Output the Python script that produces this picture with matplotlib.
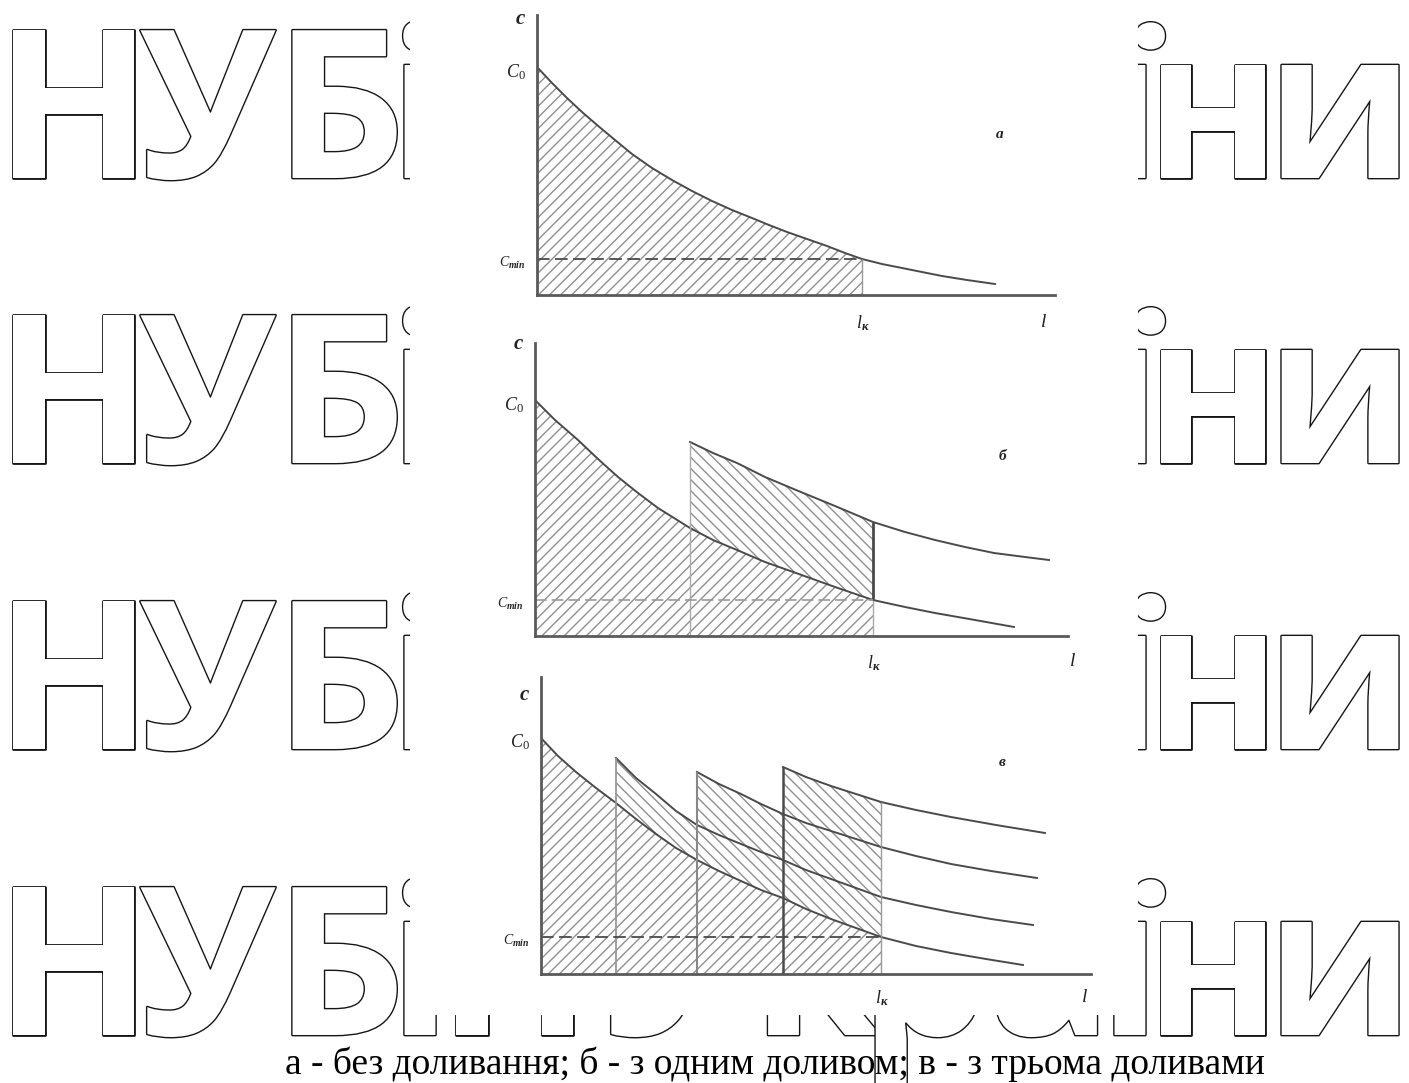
import matplotlib
matplotlib.use("Agg")
import matplotlib.pyplot as plt
from matplotlib.patches import Rectangle
import matplotlib.patheffects as pe

W, H = 1409, 1083

# --- values (l along the axis, c height above it) ---
# panel а - без доливання
a_l = [0, 15, 30, 45, 60, 78, 95, 115, 135, 155, 175, 195, 215, 232, 250, 270, 290, 308,
       325, 345, 365, 385, 405, 430, 458]
a_c = [228, 212, 197, 183, 170, 155, 141, 127, 115, 104, 94, 85, 77, 70, 63, 56, 49, 42,
       36, 31, 27, 23, 19, 15, 11]
a_cmin = 36
a_lk = 325

# panel б - з одним доливом
b_l1 = [0, 20, 43, 63, 83, 103, 123, 155, 178, 202, 230, 261, 300, 338, 370, 400, 440, 479]
b_c1 = [236, 216, 196, 177, 159, 143, 128, 108, 96, 86, 74, 63, 49, 36, 29, 23, 16, 9]
b_l2 = [155, 178, 202, 230, 261, 300, 338, 370, 400, 430, 459, 490, 514]
b_c2 = [194, 183, 173, 159, 146, 130, 114, 104, 96, 89, 83, 79, 76]
b_cmin = 36
b_lk = 338

# panel в - з трьома доливами
v_l1 = [0, 17, 35, 55, 75, 95, 115, 135, 156, 178, 200, 220, 242, 265, 290, 315, 340,
        375, 410, 445, 482]
v_c1 = [236, 218, 202, 186, 171, 155, 140, 126, 114, 103, 93, 84, 76, 65, 55, 46, 37,
        28, 21, 15, 9]
v_l2 = [75, 95, 115, 135, 156, 178, 200, 220, 242, 265, 290, 315, 340, 375, 410, 450, 492]
v_c2 = [216, 196, 180, 163, 149, 139, 130, 122, 114, 104, 95, 86, 77, 69, 62, 55, 49]
v_l3 = [156, 178, 200, 220, 242, 265, 290, 315, 340, 375, 410, 450, 496]
v_c3 = [202, 190, 180, 170, 160, 151, 143, 135, 127, 118, 110, 103, 96]
v_l4 = [242, 265, 290, 315, 340, 375, 410, 455, 504]
v_c4 = [207, 197, 188, 180, 172, 164, 157, 149, 141]
v_cmin = 37
v_lk = 340

caption = "а - без доливання; б - з одним доливом; в - з трьома доливами"
wm_chars = ["Н", "У", "Б", "і", "П", "У", "к", "р", "а", "ї", "н", "и"]
wm_rows = [178, 463, 749, 1035]
# glyph centres of the watermark letters, in pixels
wm_centres = [74, 208, 340, 420, 515, 672, 816, 925, 1050, 1130, 1213, 1340]

line_col = "#4a4a4a"
axis_col = "#5a5a5a"
hatch_col = "#8f8f8f"
lab_font = "Liberation Serif"

plt.rcParams["mathtext.fontset"] = "custom"
plt.rcParams["mathtext.rm"] = lab_font
plt.rcParams["mathtext.it"] = lab_font + ":italic"
plt.rcParams["mathtext.bf"] = lab_font + ":italic:bold"

fig = plt.figure(figsize=(W / 100, H / 100), dpi=100)
fig.patch.set_facecolor("white")

# background layer in pixel coordinates
bg = fig.add_axes([0, 0, 1, 1])
bg.set_xlim(0, W)
bg.set_ylim(H, 0)
bg.axis("off")
bg.set_zorder(-1)

# watermark rows, one letter at a time
for base in wm_rows:
    for ch, cx in zip(wm_chars, wm_centres):
        bg.text(cx, base, ch, fontsize=149, family="Open Sans", weight="bold",
                color="white", ha="center", va="baseline", zorder=1,
                path_effects=[pe.withStroke(linewidth=2.0, foreground="#151515")])

# the scanned figure sits over the watermark
bg.add_patch(Rectangle((410, 0), 728, 1015, facecolor="white", edgecolor="none", zorder=2))

bg.text(775, 1074, caption, fontsize=27, family=lab_font, ha="center", va="baseline", zorder=3)


def panel(x0, y_top, x1, y0):
    ax = fig.add_axes([x0 / W, 1 - y0 / H, (x1 - x0) / W, (y0 - y_top) / H])
    ax.set_xlim(0, x1 - x0)
    ax.set_ylim(0, y0 - y_top)
    ax.patch.set_alpha(0)
    ax.spines["top"].set_visible(False)
    ax.spines["right"].set_visible(False)
    for s in ["left", "bottom"]:
        ax.spines[s].set_color(axis_col)
        ax.spines[s].set_linewidth(2.0)
    ax.set_xticks([])
    ax.set_yticks([])
    return ax


def seg(ls, cs, lo, hi):
    pts = [(l, c) for l, c in zip(ls, cs) if lo <= l <= hi]
    return [p[0] for p in pts], [p[1] for p in pts]


def hatch_under(ax, ls, cs, lk):
    xs, ys = seg(ls, cs, 0, lk)
    ax.fill([0] + xs + [lk], [0] + ys + [0], facecolor="none", edgecolor=hatch_col,
            hatch="///", linewidth=0)


def hatch_between(ax, top_l, top_c, low_l, low_c, lo, hi):
    tx, ty = seg(top_l, top_c, lo, hi)
    lx, ly = seg(low_l, low_c, lo, hi)
    ax.fill(tx + lx[::-1], ty + ly[::-1], facecolor="none", edgecolor=hatch_col,
            hatch="\\\\\\", linewidth=0)


def labels(ax, lk, cmin, c0y, letter, letter_xy, top_y, lk_y, l_x):
    kw = dict(color="#222", clip_on=False, va="center")
    ax.text(-22, top_y, r"$\mathbf{c}$", fontsize=15, ha="left", **kw)
    ax.text(-31, c0y, r"$C_0$", fontsize=13, ha="left", **kw)
    ax.text(-38, cmin - 4, r"$C_{\mathbf{min}}$", fontsize=10, ha="left", **kw)
    ax.text(lk - 6, lk_y, r"$l_{\mathbf{к}}$", fontsize=13, ha="left", **kw)
    ax.text(l_x, lk_y + 2, r"$l$", fontsize=14, ha="left", **kw)
    ax.text(letter_xy[0], letter_xy[1], r"$\mathbf{%s}$" % letter, fontsize=11,
            ha="center", **kw)


# panel а
ax = panel(537, 15, 1055, 295)
hatch_under(ax, a_l, a_c, a_lk)
ax.plot(a_l, a_c, color=line_col, lw=1.4)
ax.hlines(a_cmin, 0, a_lk, color=line_col, lw=1.3, linestyles=(0, (7, 3)))
ax.vlines(a_lk, 0, a_cmin, color="#999", lw=1.0)
labels(ax, a_lk, a_cmin, 223, "а", (463, 162), 277, -28, 503)

# panel б
ax = panel(535, 343, 1068, 636)
hatch_under(ax, b_l1, b_c1, b_lk)
hatch_between(ax, b_l2, b_c2, b_l1, b_c1, b_l2[0], b_lk)
ax.plot(b_l1, b_c1, color=line_col, lw=1.4)
ax.plot(b_l2, b_c2, color=line_col, lw=1.4)
ax.vlines(b_l2[0], 0, b_c2[0], color="#aaa", lw=1.0)
ax.vlines(b_lk, 0, b_cmin, color="#aaa", lw=1.0)
ax.vlines(b_lk, b_cmin, b_c2[b_l2.index(b_lk)], color=line_col, lw=2.0)
ax.hlines(b_cmin, 0, b_lk, color="#999", lw=1.2, linestyles=(0, (7, 3)))
labels(ax, b_lk, b_cmin, 231, "б", (468, 181), 293, -27, 534)

# panel в
ax = panel(541, 677, 1091, 974)
hatch_under(ax, v_l1, v_c1, v_lk)
hatch_between(ax, v_l2, v_c2, v_l1, v_c1, v_l2[0], v_l3[0])
hatch_between(ax, v_l3, v_c3, v_l1, v_c1, v_l3[0], v_l4[0])
hatch_between(ax, v_l4, v_c4, v_l1, v_c1, v_l4[0], v_lk)
for ls, cs in [(v_l1, v_c1), (v_l2, v_c2), (v_l3, v_c3), (v_l4, v_c4)]:
    ax.plot(ls, cs, color=line_col, lw=1.4)
ax.vlines(v_l2[0], 0, v_c2[0], color="#999", lw=1.3)
ax.vlines(v_l3[0], 0, v_c3[0], color="#888", lw=1.5)
ax.vlines(v_l4[0], 0, v_c4[0], color=line_col, lw=1.8)
ax.vlines(v_lk, 0, v_c4[v_l4.index(v_lk)], color="#999", lw=1.0)
ax.hlines(v_cmin, 0, v_lk, color=line_col, lw=1.3, linestyles=(0, (7, 3)))
labels(ax, v_lk, v_cmin, 232, "в", (461, 212), 280, -24, 540)

fig.savefig("out.png", dpi=100)
